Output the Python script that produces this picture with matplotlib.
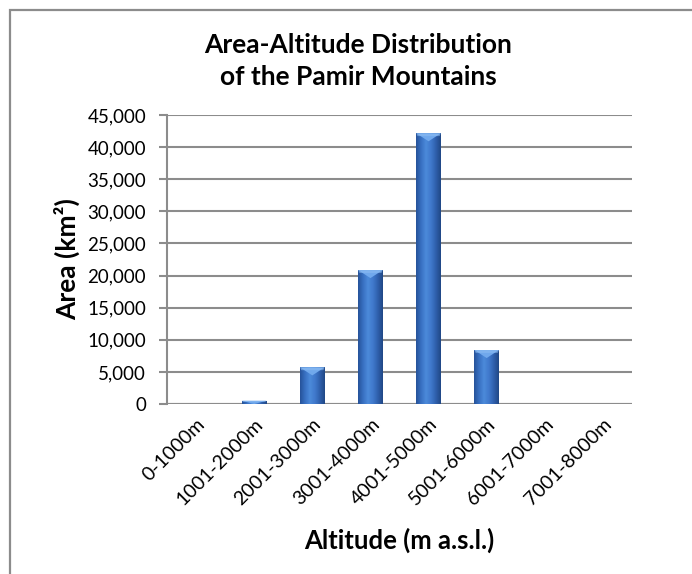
import numpy as np
import matplotlib
matplotlib.use("Agg")
import matplotlib.pyplot as plt
from matplotlib.patches import Rectangle, Polygon
from matplotlib.colors import LinearSegmentedColormap
from matplotlib.ticker import FuncFormatter

plt.rcParams['font.family'] = ['Lato', 'DejaVu Sans']

categories = ['0-1000m', '1001-2000m', '2001-3000m', '3001-4000m',
              '4001-5000m', '5001-6000m', '6001-7000m', '7001-8000m']
area_km2 = [0, 500, 5700, 20850, 42150, 8400, 0, 0]
y_ticks = [0, 5000, 10000, 15000, 20000, 25000, 30000, 35000, 40000, 45000]

W, H = 692, 574
fig = plt.figure(figsize=(W / 100, H / 100), dpi=100)
fig.patch.set_facecolor('white')

# chart-area frame
fig.patches.append(Rectangle((10 / W, -0.1), 1.2, (H - 10) / H + 0.1,
                             transform=fig.transFigure, fill=False,
                             edgecolor='#8c8c8c', linewidth=1.6, zorder=0))

ax = fig.add_axes([167 / W, 1 - 404 / H, (632 - 167) / W, (404 - 115) / H])
ax.set_facecolor('none')

x = np.arange(len(categories))
bw = 0.42
bars = ax.bar(x, area_km2, width=bw, color='#3a6dbd', zorder=3)

ax.set_xlim(-0.5, len(categories) - 0.5)
ax.set_ylim(0, 45000)
ax.set_yticks(y_ticks)
ax.yaxis.set_major_formatter(FuncFormatter(lambda v, p: f"{int(v):,}"))
ax.grid(axis='y', color='#8c8c8c', linewidth=1.5, zorder=1)
ax.set_axisbelow(True)

for s in ['top', 'right', 'bottom']:
    ax.spines[s].set_visible(False)
ax.spines['left'].set_color('#8c8c8c')
ax.spines['left'].set_linewidth(1.5)
ax.axhline(0, color='#8c8c8c', linewidth=1.5, zorder=2)

ax.tick_params(axis='y', length=6, width=1.5, color='#8c8c8c',
               labelsize=13.5, pad=9)
ax.tick_params(axis='x', length=0, labelsize=14, pad=8)
ax.set_xticks(x)
ax.set_xticklabels(categories, rotation=45, ha='right', rotation_mode='anchor')

# bevelled shading on each bar
cmap = LinearSegmentedColormap.from_list(
    'bevel', ['#26539a', '#3870c2', '#4c8ada', '#4079cc', '#2f60ad', '#214886'])
grad = np.linspace(0, 1, 64).reshape(1, -1)
px_per_unit = 289 / 45000
for b, v in zip(bars, area_km2):
    if v <= 0:
        continue
    x0 = b.get_x()
    x1 = x0 + b.get_width()
    im = ax.imshow(grad, cmap=cmap, aspect='auto',
                   extent=[x0, x1, 0, v], zorder=4)
    im.set_clip_path(b)
    # top chevron highlight
    tri_h = min(v, 8 / px_per_unit)
    tri = Polygon([[x0, v], [x1, v], [(x0 + x1) / 2, v - tri_h]],
                  closed=True, facecolor='#70a8ec', edgecolor='none',
                  zorder=5)
    ax.add_patch(tri)
    top = Polygon([[x0, v], [x1, v], [x1 - 0.02, v - tri_h * 0.35],
                   [x0 + 0.02, v - tri_h * 0.35]],
                  closed=True, facecolor='#8cbcf2', edgecolor='none',
                  alpha=0.6, zorder=5)
    ax.add_patch(top)

ax.set_ylabel('Area (km²)', fontsize=19, fontweight='bold', labelpad=5)
ax.set_xlabel('Altitude (m a.s.l.)', fontsize=18.5, fontweight='bold',
              labelpad=14)

fig.text(358 / W, 1 - 61 / H, 'Area-Altitude Distribution\nof the Pamir Mountains',
         ha='center', va='center', fontsize=19, fontweight='bold',
         linespacing=1.42)

fig.savefig('out.png', dpi=100)
